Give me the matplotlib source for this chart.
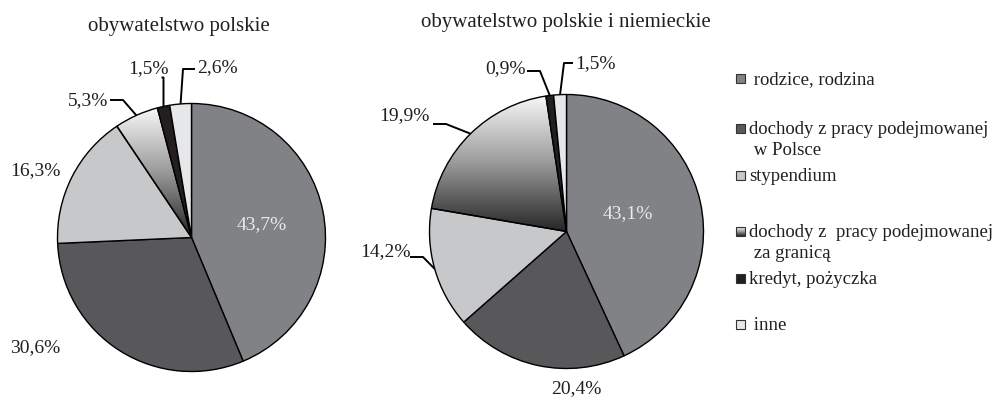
import matplotlib
matplotlib.use('Agg')
import matplotlib.pyplot as plt
import numpy as np
from matplotlib.colors import LinearSegmentedColormap
from matplotlib.patches import Rectangle

# ---------------- data ----------------
categories = ['rodzice, rodzina',
              'dochody z pracy podejmowanej\nw Polsce',
              'stypendium',
              'dochody z  pracy podejmowanej\nza granicą',
              'kredyt, pożyczka',
              'inne']
legend_prefix = [' ', '', '', '', '', ' ']
titles = ['obywatelstwo polskie', 'obywatelstwo polskie i niemieckie']
values_pl = [43.7, 30.6, 16.3, 5.3, 1.5, 2.6]
values_pl_de = [43.1, 20.4, 14.2, 19.9, 0.9, 1.5]

# ---------------- style / layout ----------------
W, H = 995, 401
colors = ['#818286', '#58585a', '#c7c8ca', None, '#231f20', '#e6e7e8']
GRAD_IDX = 3
grad_cmap = LinearSegmentedColormap.from_list('g', ['#f8f8f8', '#9a9a9a', '#262626'])
FONT = 'Liberation Serif'
TXT = '#231f20'

pies = [
    dict(values=values_pl, cx=191.5, cy=237.5, r=134, title_x=179, title_y=30.5,
         labels=[((262, 229), None, '#e9e9e9'),
                 ((35, 352), None, TXT),
                 ((35, 175), None, TXT),
                 ((88, 105), [(110, 100), (123, 100)], TXT),
                 ((148, 73), [(161.5, 77.5), (163.5, 77.5)], TXT),
                 ((217, 72), [(195, 69), (183, 69)], TXT)]),
    dict(values=values_pl_de, cx=566.5, cy=231.5, r=137, title_x=566, title_y=27.5,
         labels=[((628, 218), None, '#e9e9e9'),
                 ((576, 393), None, TXT),
                 ((385, 256), [(410, 257), (423, 257)], TXT),
                 ((404, 120), [(433, 124), (446, 124)], TXT),
                 ((505, 73), [(527, 71), (540, 71)], TXT),
                 ((595, 68), [(573, 63), (564, 63)], TXT)]),
]

def Y(y):
    return H - y

def fmt(v):
    return f"{v:.1f}".replace('.', ',') + '%'

fig = plt.figure(figsize=(W / 100, H / 100), dpi=100)
ax = fig.add_axes([0, 0, 1, 1])

for k, p in enumerate(pies):
    fc = [c if c is not None else 'none' for c in colors]
    wedges, _ = ax.pie(p['values'], colors=fc, startangle=90, counterclock=False,
                       center=(p['cx'], Y(p['cy'])), radius=p['r'], frame=True,
                       wedgeprops=dict(edgecolor='black', linewidth=1.0))
    # gradient wedge
    w = wedges[GRAD_IDX]
    th = np.radians(np.linspace(w.theta1, w.theta2, 200))
    cx, cy = w.center
    xs = np.concatenate([[cx], cx + w.r * np.cos(th)])
    ys = np.concatenate([[cy], cy + w.r * np.sin(th)])
    grad = np.linspace(0, 1, 256).reshape(-1, 1)
    im = ax.imshow(grad, cmap=grad_cmap, aspect='auto', origin='upper',
                   extent=(xs.min(), xs.max(), ys.min(), ys.max()), zorder=0.5)
    im.set_clip_path(w)

    # labels
    for i, (w, (pos, elbow, col)) in enumerate(zip(wedges, p['labels'])):
        ax.text(pos[0], Y(pos[1]), fmt(p['values'][i]), ha='center', va='baseline',
                fontsize=14, family=FONT, color=col, zorder=5)
        if elbow is not None:
            mid = np.radians((w.theta1 + w.theta2) / 2)
            ex = w.center[0] + w.r * np.cos(mid)
            ey = w.center[1] + w.r * np.sin(mid)
            lx = [elbow[0][0], elbow[1][0], ex]
            ly = [Y(elbow[0][1]), Y(elbow[1][1]), ey]
            ax.plot(lx, ly, color='black', lw=1.4, solid_capstyle='butt', zorder=4)

    ax.text(p['title_x'], Y(p['title_y']), titles[k], ha='center',
            va='baseline', fontsize=15, family=FONT, color=TXT)

# legend
sq_x, sq = 736, 8.5
text_baselines = [84, 134, 181, 237, 284, 330]
line_step = 21
text_x = 749
for i, cat in enumerate(categories):
    yc = text_baselines[i] - 5.5
    if i == GRAD_IDX:
        ax.imshow(np.linspace(0, 1, 64).reshape(-1, 1), cmap=grad_cmap, aspect='auto',
                  origin='upper', extent=(sq_x, sq_x + sq, Y(yc + sq / 2), Y(yc - sq / 2)),
                  zorder=2)
        ax.add_patch(Rectangle((sq_x, Y(yc + sq / 2)), sq, sq, facecolor='none',
                               edgecolor='#333333', lw=0.8, zorder=3))
    else:
        ax.add_patch(Rectangle((sq_x, Y(yc + sq / 2)), sq, sq, facecolor=colors[i],
                               edgecolor='#333333', lw=0.8, zorder=3))
    for j, line in enumerate(cat.split('\n')):
        txt = (legend_prefix[i] + line) if j == 0 else ' ' + line
        ax.text(text_x, Y(text_baselines[i] + line_step * j), txt, ha='left', va='baseline',
                fontsize=13.5, family=FONT, color=TXT)

ax.set_xlim(0, W)
ax.set_ylim(0, H)
ax.set_aspect('auto')
ax.axis('off')
fig.savefig('out.png', dpi=100, facecolor='white')
